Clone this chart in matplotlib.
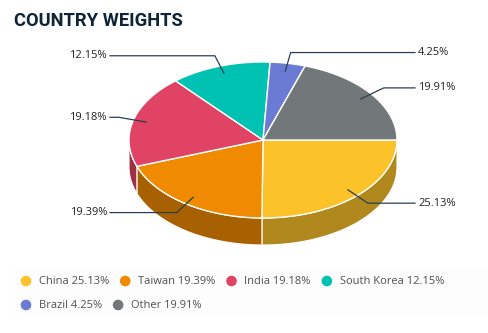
import numpy as np
import matplotlib
matplotlib.use("Agg")
import matplotlib.pyplot as plt
from matplotlib.patches import Polygon, Circle, Rectangle
from matplotlib.colors import to_rgb

countries = ["China", "Taiwan", "India", "South Korea", "Brazil", "Other"]
weights = [25.13, 19.39, 19.18, 12.15, 4.25, 19.91]
colors = ["#FCC22A", "#F08A00", "#E14364", "#00C2B2", "#6B7BD4", "#727779"]

W, H = 489, 333
fig = plt.figure(figsize=(W / 100, H / 100), dpi=100)
ax = fig.add_axes([0, 0, 1, 1])
ax.set_xlim(0, W)
ax.set_ylim(H, 0)
ax.axis("off")

# pie geometry (pixels)
cx, cy = 263, 140
rx, ry = 134, 78
depth = 27


def shade(c, k=0.7):
    r, g, b = to_rgb(c)
    return (r * k, g * k, b * k)


def arc(a1, a2, dy=0, n=80):
    t = np.radians(np.linspace(a1, a2, n))
    return np.column_stack([cx + rx * np.cos(t), cy + ry * np.sin(t) + dy])


vals = np.array(weights)
ends = np.cumsum(vals) / vals.sum() * 360
starts = ends - vals / vals.sum() * 360

# outer walls on the front half
for a1, a2, c in zip(starts, ends, colors):
    lo, hi = max(a1, 0), min(a2, 180)
    if hi <= lo:
        continue
    pts = np.vstack([arc(lo, hi), arc(lo, hi, depth)[::-1]])
    ax.add_patch(Polygon(pts, closed=True, fc=shade(c), ec="white", lw=0.8))

# top faces
for a1, a2, c in zip(starts, ends, colors):
    pts = np.vstack([[cx, cy], arc(a1, a2)])
    ax.add_patch(Polygon(pts, closed=True, fc=c, ec="white", lw=1.0))

# data labels with connectors
for a1, a2, v in zip(starts, ends, weights):
    m = np.radians((a1 + a2) / 2)
    ax_, ay_ = cx + 0.9 * rx * np.cos(m), cy + 0.9 * ry * np.sin(m)
    ex, ey = cx + 149 * np.cos(m), cy + 89 * np.sin(m)
    right = np.cos(m) > 0
    lx = 415 if right else 110
    ax.plot([ax_, ex, lx], [ay_, ey, ey], color="#2b3e50", lw=0.9)
    ax.text(lx + (3 if right else -3), ey, f"{v:.2f}%", ha="left" if right else "right",
            va="center", fontsize=8, family="Open Sans", color="#222222")

ax.text(14, 21, "COUNTRY WEIGHTS", fontsize=13.2, fontweight="bold", family="Roboto",
        color="#0F2537", va="center", ha="left")

# legend, flowing left to right
ax.add_patch(Rectangle((15, 266), W - 15, 52, fc="#fdfdfd", ec="none"))
renderer = fig.canvas.get_renderer()
x, y = 26, 281
for name, v, c in zip(countries, weights, colors):
    label = f"{name} {v:.2f}%"
    t = ax.text(0, y, label, fontsize=8, family="Open Sans", color="#505050", va="center")
    bb = t.get_window_extent(renderer)
    w = bb.width
    if x + 13 + w > W - 10:
        x, y = 26, y + 24
        t.set_y(y)
    ax.add_patch(Circle((x, y), 5.3, fc=c, ec="none"))
    t.set_x(x + 13)
    x += 13 + w + 16

fig.savefig("out.png", dpi=100)
